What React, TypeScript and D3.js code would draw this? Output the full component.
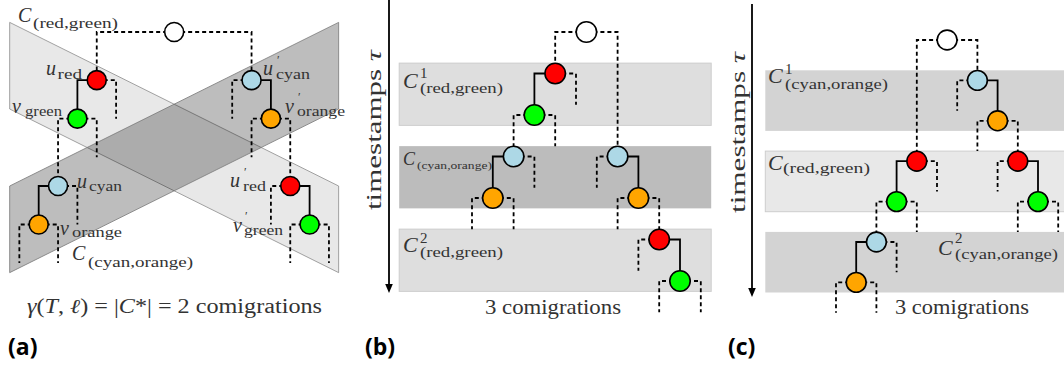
import React from "react";
import * as d3 from "d3";

type NodeD = { id: string; col: number; t: number; color: string };
type EdgeD = { from: string; to: string; dashed: boolean };
type StubD = { node: string; side: number };
type BandD = { t0: number; t1: number; shade: string };

const FILL: Record<string, string> = {
  red: "#ff0000",
  green: "#00ff00",
  cyan: "#add8e6",
  orange: "#ffa500",
  white: "#ffffff",
};

// ---------- Panel (a) ----------
const aNodes: NodeD[] = [
  { id: "root", col: 9, t: 0, color: "white" },
  { id: "uRed", col: 5, t: 2.5, color: "red" },
  { id: "vGreen", col: 4, t: 4.5, color: "green" },
  { id: "uCyan", col: 3, t: 8, color: "cyan" },
  { id: "vOrange", col: 2, t: 10, color: "orange" },
  { id: "uCyanP", col: 13, t: 2.5, color: "cyan" },
  { id: "vOrangeP", col: 14, t: 4.5, color: "orange" },
  { id: "uRedP", col: 15, t: 8, color: "red" },
  { id: "vGreenP", col: 16, t: 10, color: "green" },
];
const aEdges: EdgeD[] = [
  { from: "root", to: "uRed", dashed: true },
  { from: "root", to: "uCyanP", dashed: true },
  { from: "uRed", to: "vGreen", dashed: false },
  { from: "vGreen", to: "uCyan", dashed: true },
  { from: "uCyan", to: "vOrange", dashed: false },
  { from: "uCyanP", to: "vOrangeP", dashed: false },
  { from: "vOrangeP", to: "uRedP", dashed: true },
  { from: "uRedP", to: "vGreenP", dashed: false },
];
const aStubs: StubD[] = [
  { node: "uRed", side: 1 },
  { node: "vGreen", side: 1 },
  { node: "uCyan", side: 1 },
  { node: "vOrange", side: -1 },
  { node: "vOrange", side: 1 },
  { node: "uCyanP", side: -1 },
  { node: "vOrangeP", side: -1 },
  { node: "uRedP", side: -1 },
  { node: "vGreenP", side: -1 },
  { node: "vGreenP", side: 1 },
];

// ---------- Panel (b) ----------
const bNodes: NodeD[] = [
  { id: "root", col: 5.5, t: 0, color: "white" },
  { id: "red1", col: 4, t: 2, color: "red" },
  { id: "green1", col: 3, t: 4, color: "green" },
  { id: "cyanL", col: 2, t: 6, color: "cyan" },
  { id: "orangeL", col: 1, t: 8, color: "orange" },
  { id: "cyanR", col: 7, t: 6, color: "cyan" },
  { id: "orangeR", col: 8, t: 8, color: "orange" },
  { id: "red2", col: 9, t: 10, color: "red" },
  { id: "green2", col: 10, t: 12, color: "green" },
];
const bEdges: EdgeD[] = [
  { from: "root", to: "red1", dashed: true },
  { from: "root", to: "cyanR", dashed: true },
  { from: "red1", to: "green1", dashed: false },
  { from: "green1", to: "cyanL", dashed: true },
  { from: "cyanL", to: "orangeL", dashed: false },
  { from: "cyanR", to: "orangeR", dashed: false },
  { from: "orangeR", to: "red2", dashed: true },
  { from: "red2", to: "green2", dashed: false },
];
const bStubs: StubD[] = [
  { node: "red1", side: 1 },
  { node: "green1", side: 1 },
  { node: "cyanL", side: 1 },
  { node: "orangeL", side: -1 },
  { node: "orangeL", side: 1 },
  { node: "cyanR", side: -1 },
  { node: "orangeR", side: -1 },
  { node: "red2", side: -1 },
  { node: "green2", side: -1 },
  { node: "green2", side: 1 },
];
const bBands: BandD[] = [
  { t0: 1.5, t1: 4.5, shade: "light" },
  { t0: 5.5, t1: 8.5, shade: "dark" },
  { t0: 9.5, t1: 12.5, shade: "light" },
];

// ---------- Panel (c) ----------
const cNodes: NodeD[] = [
  { id: "root", col: 5.5, t: 0, color: "white" },
  { id: "cyanT", col: 7, t: 2, color: "cyan" },
  { id: "orangeT", col: 8, t: 4, color: "orange" },
  { id: "redL", col: 4, t: 6, color: "red" },
  { id: "greenL", col: 3, t: 8, color: "green" },
  { id: "cyanB", col: 2, t: 10, color: "cyan" },
  { id: "orangeB", col: 1, t: 12, color: "orange" },
  { id: "redR", col: 9, t: 6, color: "red" },
  { id: "greenR", col: 10, t: 8, color: "green" },
];
const cEdges: EdgeD[] = [
  { from: "root", to: "redL", dashed: true },
  { from: "root", to: "cyanT", dashed: true },
  { from: "cyanT", to: "orangeT", dashed: false },
  { from: "orangeT", to: "redR", dashed: true },
  { from: "redR", to: "greenR", dashed: false },
  { from: "redL", to: "greenL", dashed: false },
  { from: "greenL", to: "cyanB", dashed: true },
  { from: "cyanB", to: "orangeB", dashed: false },
];
const cStubs: StubD[] = [
  { node: "cyanT", side: -1 },
  { node: "orangeT", side: -1 },
  { node: "redL", side: 1 },
  { node: "redR", side: -1 },
  { node: "greenL", side: 1 },
  { node: "greenR", side: -1 },
  { node: "greenR", side: 1 },
  { node: "cyanB", side: 1 },
  { node: "orangeB", side: -1 },
  { node: "orangeB", side: 1 },
];
const cBands: BandD[] = [
  { t0: 1.5, t1: 4.5, shade: "dark" },
  { t0: 5.5, t1: 8.5, shade: "light" },
  { t0: 9.5, t1: 12.5, shade: "dark" },
];

const SERIF = "'Liberation Serif', 'Times New Roman', serif";
const SANS = "'Open Sans', 'DejaVu Sans', sans-serif";
const INK = "#333333";

type Geo = { x0: number; xu: number; y0: number; yu: number; stub: number; r: number };

function Tree({ nodes, edges, stubs, geo }: { nodes: NodeD[]; edges: EdgeD[]; stubs: StubD[]; geo: Geo }) {
  const xs = d3.scaleLinear().domain([0, 1]).range([geo.x0, geo.x0 + geo.xu]);
  const ys = d3.scaleLinear().domain([0, 1]).range([geo.y0, geo.y0 + geo.yu]);
  const byId = new Map(nodes.map((n) => [n.id, n]));
  const edgePath = (p: NodeD, c: NodeD) => {
    const path = d3.path();
    path.moveTo(xs(p.col), ys(p.t));
    path.lineTo(xs(c.col), ys(p.t));
    path.lineTo(xs(c.col), ys(c.t));
    return path.toString();
  };
  const stubPath = (n: NodeD, side: number) => {
    const path = d3.path();
    path.moveTo(xs(n.col), ys(n.t));
    path.lineTo(xs(n.col + side), ys(n.t));
    path.lineTo(xs(n.col + side), ys(n.t + geo.stub));
    return path.toString();
  };
  return (
    <g>
      {stubs.map((s, i) => (
        <path key={"s" + i} d={stubPath(byId.get(s.node)!, s.side)} fill="none" stroke="#000" strokeWidth={1.8} strokeDasharray="4 3" />
      ))}
      {edges.map((e, i) => (
        <path
          key={"e" + i}
          d={edgePath(byId.get(e.from)!, byId.get(e.to)!)}
          fill="none"
          stroke="#000"
          strokeWidth={1.8}
          strokeDasharray={e.dashed ? "4 3" : undefined}
        />
      ))}
      {nodes.map((n) => (
        <circle key={n.id} cx={xs(n.col)} cy={ys(n.t)} r={geo.r} fill={FILL[n.color]} stroke="#000" strokeWidth={1.6} />
      ))}
    </g>
  );
}

function Bands({ bands, geo, c0, c1, colors }: { bands: BandD[]; geo: Geo; c0: number; c1: number; colors: Record<string, string> }) {
  const xs = d3.scaleLinear().domain([0, 1]).range([geo.x0, geo.x0 + geo.xu]);
  const ys = d3.scaleLinear().domain([0, 1]).range([geo.y0, geo.y0 + geo.yu]);
  return (
    <g>
      {bands.map((b, i) => (
        <rect
          key={i}
          x={xs(c0)}
          y={ys(b.t0)}
          width={xs(c1) - xs(c0)}
          height={ys(b.t1) - ys(b.t0)}
          fill={colors[b.shade]}
          stroke={b.shade === "light" ? "#cdcdcd" : "none"}
          strokeWidth={1}
        />
      ))}
    </g>
  );
}

function T({ x, y, s, it, w, children, anchor }: any) {
  return (
    <text
      x={x}
      y={y}
      fontSize={s}
      fontStyle={it ? "italic" : "normal"}
      textLength={w}
      lengthAdjust={w ? "spacingAndGlyphs" : undefined}
      textAnchor={anchor}
      fill={INK}
      fontFamily={SERIF}
    >
      {children}
    </text>
  );
}

// symbol with a small raised prime and a subscript
function Primed({ x, y, sym, sx, sy, sub, w }: any) {
  return (
    <g>
      <text x={x} y={y} fontSize={20} fontStyle="italic" fill={INK} fontFamily={SERIF}>
        {sym}
      </text>
      <text x={sx + 1} y={sy - 15} fontSize={12} fill={INK} fontFamily={SERIF}>
        ′
      </text>
      <text x={sx} y={sy} fontSize={15} textLength={w} lengthAdjust="spacingAndGlyphs" fill={INK} fontFamily={SERIF}>
        {sub}
      </text>
    </g>
  );
}

function Arrow({ x, y1, y2 }: { x: number; y1: number; y2: number }) {
  return (
    <g>
      <line x1={x} y1={y1} x2={x} y2={y2 - 6} stroke="#000" strokeWidth={1.8} />
      <path d={`M${x - 3.8},${y2 - 9}L${x + 3.8},${y2 - 9}L${x},${y2}Z`} fill="#000" />
    </g>
  );
}

export default function App() {
  const geoA: Geo = { x0: 0, xu: 19.35, y0: 32, yu: 19.25, stub: 2, r: 9.5 };
  const geoB: Geo = { x0: 472, xu: 20.8, y0: 32, yu: 20.75, stub: 1.5, r: 10.2 };
  const geoC: Geo = { x0: 836, xu: 20.2, y0: 40, yu: 20.2, stub: 1.5, r: 9.9 };

  const axs = d3.scaleLinear().domain([0, 1]).range([geoA.x0, geoA.x0 + geoA.xu]);
  const ays = d3.scaleLinear().domain([0, 1]).range([geoA.y0, geoA.y0 + geoA.yu]);
  const pL = 0.5, pR = 17.5;
  const poly = (pts: [number, number][]) => pts.map(([c, t]) => `${axs(c)},${ays(t)}`).join(" ");

  return (
    <svg width={1064} height={367} style={{ position: "absolute", left: 0, top: 0, background: "#fff" }}>
      {/* ---------- (a) ---------- */}
      <polygon points={poly([[pL, -0.5], [pR, 8], [pR, 12.5], [pL, 4]])} fill="#e8e8e8" stroke="#8a8a8a" strokeWidth={0.8} />
      <polygon points={poly([[pL, 8], [pR, -0.5], [pR, 4], [pL, 12.5]])} fill="rgba(0,0,0,0.26)" stroke="#777" strokeWidth={0.8} />
      <Tree nodes={aNodes} edges={aEdges} stubs={aStubs} geo={geoA} />

      <T x={18} y={22} s={20} it>C</T>
      <T x={33} y={27.5} s={15} w={85}>(red,green)</T>

      <T x={46} y={75} s={20} it>u</T>
      <T x={57.5} y={78.5} s={15} w={24.5}>red</T>

      <T x={12} y={113} s={20} it>v</T>
      <T x={25} y={116} s={15} w={37}>green</T>

      <Primed x={263} y={75} sym="u" sx={276} sy={78.5} sub="cyan" w={34} />
      <Primed x={285} y={113} sym="v" sx={297} sy={116} sub="orange" w={48} />

      <T x={77} y={188} s={20} it>u</T>
      <T x={89} y={191} s={15} w={33}>cyan</T>

      <T x={60} y={235} s={20} it>v</T>
      <T x={72} y={237} s={15} w={50}>orange</T>

      <T x={72} y={260} s={20} it>C</T>
      <T x={88} y={266.5} s={15} w={105}>(cyan,orange)</T>

      <Primed x={230} y={187} sym="u" sx={243} sy={191} sub="red" w={23} />
      <Primed x={233} y={232} sym="v" sx={244} sy={235} sub="green" w={39} />

      <text x={27} y={313} fontSize={20} textLength={295} lengthAdjust="spacingAndGlyphs" fill={INK} fontFamily={SERIF}>
        <tspan fontStyle="italic">γ</tspan>(<tspan fontStyle="italic">T</tspan>, <tspan fontStyle="italic">ℓ</tspan>) = |<tspan fontStyle="italic">C</tspan>*| = 2 comigrations
      </text>
      <text x={8} y={355} fontSize={23} fontWeight="bold" fontFamily={SANS} fill="#000">(a)</text>

      {/* ---------- (b) ---------- */}
      <Bands bands={bBands} geo={geoB} c0={-3.5} c1={11.5} colors={{ light: "#dedede", dark: "#bcbcbc" }} />
      <Arrow x={389} y1={0} y2={293} />
      <text transform="translate(381,130) rotate(-90)" textAnchor="middle" fontSize={20} textLength={160} lengthAdjust="spacingAndGlyphs" fill={INK} fontFamily={SERIF}>
        timestamps <tspan fontStyle="italic">τ</tspan>
      </text>

      <T x={403} y={88} s={22} it>C</T>
      <T x={420} y={78} s={15}>1</T>
      <T x={420} y={93} s={15} w={83}>(red,green)</T>

      <T x={403} y={165} s={18} it>C</T>
      <T x={417} y={168.5} s={11} w={75}>(cyan,orange)</T>

      <T x={403} y={252} s={22} it>C</T>
      <T x={420} y={243} s={15}>2</T>
      <T x={420} y={257} s={15} w={83}>(red,green)</T>

      <Tree nodes={bNodes} edges={bEdges} stubs={bStubs} geo={geoB} />

      <T x={485} y={314} s={21} w={136}>3 comigrations</T>
      <text x={365} y={355} fontSize={23} fontWeight="bold" fontFamily={SANS} fill="#000">(b)</text>

      {/* ---------- (c) ---------- */}
      <Bands bands={cBands} geo={geoC} c0={-3.5} c1={11.5} colors={{ light: "#e8e8e8", dark: "#d3d3d3" }} />
      <Arrow x={752} y1={4} y2={297} />
      <text transform="translate(745,132.5) rotate(-90)" textAnchor="middle" fontSize={20} textLength={161} lengthAdjust="spacingAndGlyphs" fill={INK} fontFamily={SERIF}>
        timestamps <tspan fontStyle="italic">τ</tspan>
      </text>

      <T x={768} y={83} s={22} it>C</T>
      <T x={785} y={74} s={15}>1</T>
      <T x={785} y={89} s={15} w={103}>(cyan,orange)</T>

      <T x={768} y={170} s={22} it>C</T>
      <T x={783} y={173} s={15} w={87}>(red,green)</T>

      <T x={938} y={255} s={22} it>C</T>
      <T x={955} y={243} s={15}>2</T>
      <T x={955} y={259} s={15} w={103}>(cyan,orange)</T>

      <Tree nodes={cNodes} edges={cEdges} stubs={cStubs} geo={geoC} />

      <T x={895} y={314} s={21} w={134}>3 comigrations</T>
      <text x={728} y={355} fontSize={23} fontWeight="bold" fontFamily={SANS} fill="#000">(c)</text>
    </svg>
  );
}
